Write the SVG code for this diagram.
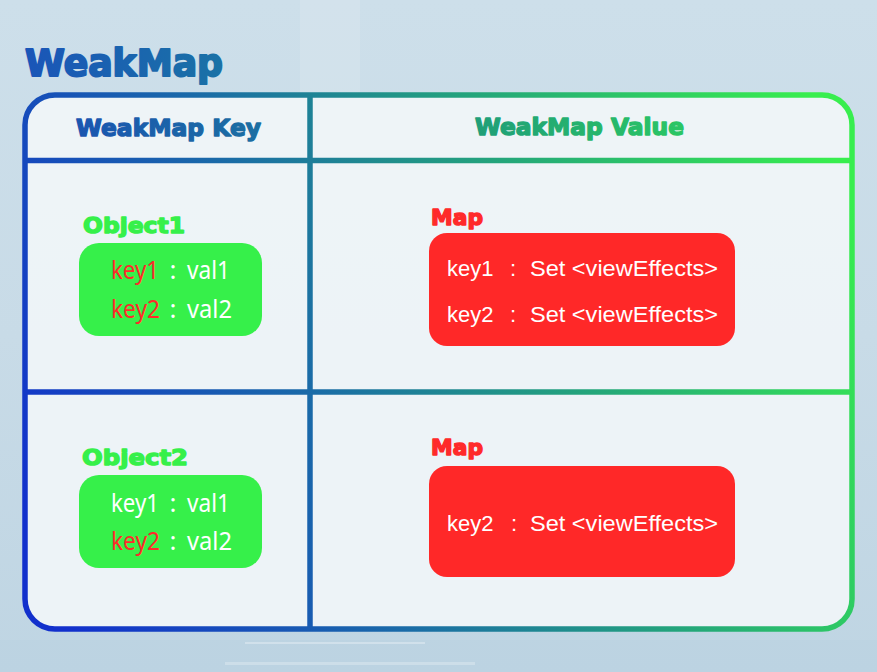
<svg xmlns="http://www.w3.org/2000/svg" width="877" height="672" viewBox="0 0 877 672">
  <defs>
    <linearGradient id="bg" x1="0" y1="0" x2="0" y2="1">
      <stop offset="0" stop-color="#cddfea"/>
      <stop offset="0.5" stop-color="#c8dbe7"/>
      <stop offset="1" stop-color="#bfd5e3"/>
    </linearGradient>
    <linearGradient id="frame" gradientUnits="userSpaceOnUse" x1="25" y1="520" x2="852" y2="200">
      <stop offset="0" stop-color="#1230cc"/>
      <stop offset="0.35" stop-color="#1a6aa8"/>
      <stop offset="0.65" stop-color="#24a67a"/>
      <stop offset="1" stop-color="#38ee4e"/>
    </linearGradient>
    <linearGradient id="title" x1="0" y1="0" x2="1" y2="0">
      <stop offset="0" stop-color="#1a55b8"/>
      <stop offset="1" stop-color="#1a72a6"/>
    </linearGradient>
    <linearGradient id="hdrKey" x1="0" y1="0" x2="1" y2="0">
      <stop offset="0" stop-color="#1a55b0"/>
      <stop offset="1" stop-color="#1b6fa2"/>
    </linearGradient>
    <linearGradient id="hdrVal" x1="0" y1="0" x2="1" y2="0">
      <stop offset="0" stop-color="#1f9e78"/>
      <stop offset="1" stop-color="#2bc664"/>
    </linearGradient>
  </defs>
  <style>
    .heavy { font-family: "DejaVu Sans", "Liberation Sans", sans-serif; font-weight: bold; paint-order: stroke; stroke-linejoin: round; }
    .obj { fill: #36f04a; stroke: #36f04a; stroke-width: 1.4; font-size: 22px; }
    .maplbl { fill: #ff2a2a; stroke: #ff2a2a; stroke-width: 1.4; font-size: 22px; }
    .gbox { fill: #36f04a; }
    .rbox { fill: #ff2828; }
    .kv { font-family: "Noto Sans", "Open Sans", sans-serif; font-size: 26px; fill: #ffffff; }
    .kv .r { fill: #ff2a2a; }
    .mv { font-family: "Liberation Sans", Arial, sans-serif; font-size: 22px; fill: #ffffff; }
    .line { stroke: url(#frame); stroke-width: 5.5; fill: none; }
  </style>

  <!-- background -->
  <rect x="0" y="0" width="877" height="672" fill="url(#bg)"/>
  <rect x="300" y="0" width="60" height="95" fill="#ffffff" opacity="0.12"/>
  <rect x="0" y="640" width="877" height="32" fill="#b8d0df" opacity="0.35"/>
  <rect x="245" y="642" width="180" height="2" fill="#ffffff" opacity="0.3"/>
  <rect x="225" y="662" width="250" height="3" fill="#ffffff" opacity="0.25"/>

  <!-- title -->
  <text id="title-text" class="heavy" x="25" y="76" font-size="37" fill="url(#title)" stroke="url(#title)" stroke-width="2" textLength="198" lengthAdjust="spacingAndGlyphs">WeakMap</text>

  <!-- table frame / connectors -->
  <g id="table">
    <rect x="25" y="95" width="827" height="534" rx="30" ry="30" fill="#eff4f8" opacity="0.95"/>
    <g id="connectors">
      <rect class="line" x="25" y="95" width="827" height="534" rx="30" ry="30"/>
      <line class="line" x1="25" y1="160.5" x2="852" y2="160.5"/>
      <line class="line" x1="25" y1="392" x2="852" y2="392"/>
      <line class="line" x1="310" y1="95" x2="310" y2="629"/>
    </g>
  </g>

  <!-- headers -->
  <g id="header-key">
    <text class="heavy" x="76" y="136" font-size="23.5" fill="url(#hdrKey)" stroke="url(#hdrKey)" stroke-width="1.4" textLength="185" lengthAdjust="spacingAndGlyphs">WeakMap Key</text>
  </g>
  <g id="header-value">
    <text class="heavy" x="475" y="135" font-size="23.5" fill="url(#hdrVal)" stroke="url(#hdrVal)" stroke-width="1.4" textLength="209" lengthAdjust="spacingAndGlyphs">WeakMap Value</text>
  </g>

  <!-- Object1 -->
  <g id="object1">
    <text class="heavy obj" x="83" y="233" textLength="102" lengthAdjust="spacingAndGlyphs">Object1</text>
    <rect class="gbox" x="79" y="243" width="183" height="93" rx="20" ry="20"/>
    <g class="kv">
      <text class="r" x="111" y="279" textLength="48" lengthAdjust="spacingAndGlyphs">key1</text>
      <text x="173" y="279" text-anchor="middle">:</text>
      <text x="187" y="279" textLength="43" lengthAdjust="spacingAndGlyphs">val1</text>
      <text class="r" x="111" y="318" textLength="49" lengthAdjust="spacingAndGlyphs">key2</text>
      <text x="173" y="318" text-anchor="middle">:</text>
      <text x="187" y="318" textLength="45" lengthAdjust="spacingAndGlyphs">val2</text>
    </g>
  </g>

  <!-- Map 1 -->
  <g id="map1">
    <text class="heavy maplbl" x="431" y="225" textLength="52" lengthAdjust="spacingAndGlyphs">Map</text>
    <rect class="rbox" x="429" y="233" width="306" height="113" rx="18" ry="18"/>
    <g class="mv">
      <text x="447" y="276">key1</text>
      <text x="513" y="276" text-anchor="middle">:</text>
      <text x="530" y="276" textLength="188" lengthAdjust="spacingAndGlyphs">Set &lt;viewEffects&gt;</text>
      <text x="447" y="322">key2</text>
      <text x="513" y="322" text-anchor="middle">:</text>
      <text x="530" y="322" textLength="188" lengthAdjust="spacingAndGlyphs">Set &lt;viewEffects&gt;</text>
    </g>
  </g>

  <!-- Object2 -->
  <g id="object2">
    <text class="heavy obj" x="82" y="465" textLength="106" lengthAdjust="spacingAndGlyphs">Object2</text>
    <rect class="gbox" x="79" y="475" width="183" height="93" rx="20" ry="20"/>
    <g class="kv">
      <text x="111" y="512" textLength="48" lengthAdjust="spacingAndGlyphs">key1</text>
      <text x="173" y="512" text-anchor="middle">:</text>
      <text x="187" y="512" textLength="43" lengthAdjust="spacingAndGlyphs">val1</text>
      <text class="r" x="111" y="550" textLength="49" lengthAdjust="spacingAndGlyphs">key2</text>
      <text x="173" y="550" text-anchor="middle">:</text>
      <text x="187" y="550" textLength="45" lengthAdjust="spacingAndGlyphs">val2</text>
    </g>
  </g>

  <!-- Map 2 -->
  <g id="map2">
    <text class="heavy maplbl" x="431" y="455" textLength="52" lengthAdjust="spacingAndGlyphs">Map</text>
    <rect class="rbox" x="429" y="466" width="306" height="111" rx="18" ry="18"/>
    <g class="mv">
      <text x="447" y="531">key2</text>
      <text x="514" y="531" text-anchor="middle">:</text>
      <text x="530" y="531" textLength="188" lengthAdjust="spacingAndGlyphs">Set &lt;viewEffects&gt;</text>
    </g>
  </g>
</svg>
